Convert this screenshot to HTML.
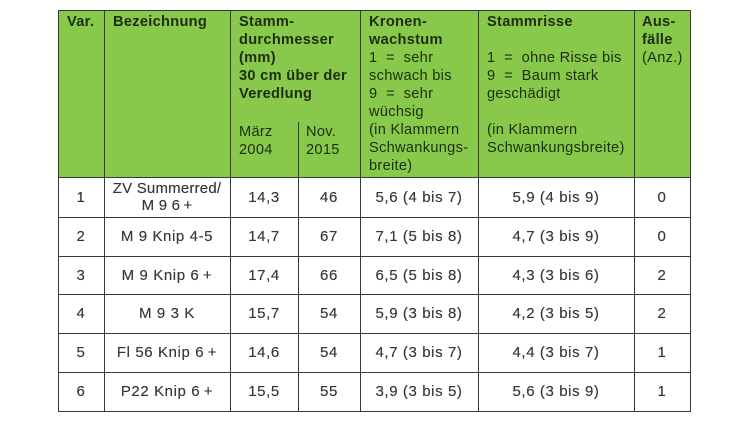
<!DOCTYPE html>
<html>
<head>
<meta charset="utf-8">
<style>
html,body{margin:0;padding:0;background:#fff;}
body{width:748px;height:421px;position:relative;overflow:hidden;font-family:"Liberation Sans",Arial,sans-serif;}
.bg{position:absolute;left:58px;top:10px;width:632px;height:167px;background:#88c94b;}
.v{position:absolute;width:1.5px;background:#383838;}
.h{position:absolute;height:1.5px;background:#383838;}
.ht{position:absolute;font-size:14.6px;line-height:18px;color:#1d2e10;letter-spacing:0.3px;white-space:nowrap;}
.ht b{font-weight:bold;}
.d{position:absolute;font-size:15px;color:#383838;letter-spacing:0.6px;white-space:nowrap;text-align:center;display:flex;align-items:center;justify-content:center;line-height:17px;text-shadow:0 0 0.4px #555;}
</style>
</head>
<body>
<div class="bg"></div>

<!-- horizontal lines -->
<div class="h" style="left:58px;top:9.5px;width:633px;"></div>
<div class="h" style="left:58px;top:176.5px;width:633px;"></div>
<div class="h" style="left:58px;top:216.5px;width:633px;"></div>
<div class="h" style="left:58px;top:255.5px;width:633px;"></div>
<div class="h" style="left:58px;top:293.5px;width:633px;"></div>
<div class="h" style="left:58px;top:332.5px;width:633px;"></div>
<div class="h" style="left:58px;top:371.5px;width:633px;"></div>
<div class="h" style="left:58px;top:410.5px;width:633px;"></div>

<!-- vertical lines -->
<div class="v" style="left:57.5px;top:9.5px;height:402px;"></div>
<div class="v" style="left:103.5px;top:9.5px;height:402px;"></div>
<div class="v" style="left:229.5px;top:9.5px;height:402px;"></div>
<div class="v" style="left:297.5px;top:122px;height:289.5px;"></div>
<div class="v" style="left:359.5px;top:9.5px;height:402px;"></div>
<div class="v" style="left:477.5px;top:9.5px;height:402px;"></div>
<div class="v" style="left:633.5px;top:9.5px;height:402px;"></div>
<div class="v" style="left:689.5px;top:9.5px;height:402px;"></div>

<!-- header text -->
<div class="ht" style="left:67px;top:13px;"><b>Var.</b></div>
<div class="ht" style="left:113px;top:13px;"><b>Bezeichnung</b></div>
<div class="ht" style="left:239px;top:13px;"><b>Stamm-<br>durchmesser<br>(mm)<br>30 cm über der<br>Veredlung</b></div>
<div class="ht" style="left:239px;top:123px;">März<br>2004</div>
<div class="ht" style="left:306px;top:123px;">Nov.<br>2015</div>
<div class="ht" style="left:369px;top:13px;"><b>Kronen-<br>wachstum</b><br>1&nbsp; =&nbsp; sehr<br>schwach bis<br>9&nbsp; =&nbsp; sehr<br>wüchsig<br>(in Klammern<br>Schwankungs-<br>breite)</div>
<div class="ht" style="left:487px;top:13px;"><b>Stammrisse</b><br>&nbsp;<br>1&nbsp; =&nbsp; ohne Risse bis<br>9&nbsp; =&nbsp; Baum stark<br>geschädigt<br>&nbsp;<br>(in Klammern<br>Schwankungsbreite)</div>
<div class="ht" style="left:642px;top:13px;"><b>Aus-<br>fälle</b><br>(Anz.)</div>

<!-- row 1 -->
<div class="d" style="left:58px;top:177px;width:46px;height:40px;">1</div>
<div class="d" style="left:104px;top:177px;width:126px;height:40px;letter-spacing:0.2px;">ZV Summerred/<br>M 9 6&thinsp;+</div>
<div class="d" style="left:230px;top:177px;width:68px;height:40px;">14,3</div>
<div class="d" style="left:298px;top:177px;width:62px;height:40px;">46</div>
<div class="d" style="left:360px;top:177px;width:118px;height:40px;">5,6 (4 bis 7)</div>
<div class="d" style="left:478px;top:177px;width:156px;height:40px;">5,9 (4 bis 9)</div>
<div class="d" style="left:634px;top:177px;width:56px;height:40px;">0</div>

<!-- row 2 -->
<div class="d" style="left:58px;top:217px;width:46px;height:39px;">2</div>
<div class="d" style="left:104px;top:217px;width:126px;height:39px;">M 9 Knip 4-5</div>
<div class="d" style="left:230px;top:217px;width:68px;height:39px;">14,7</div>
<div class="d" style="left:298px;top:217px;width:62px;height:39px;">67</div>
<div class="d" style="left:360px;top:217px;width:118px;height:39px;">7,1 (5 bis 8)</div>
<div class="d" style="left:478px;top:217px;width:156px;height:39px;">4,7 (3 bis 9)</div>
<div class="d" style="left:634px;top:217px;width:56px;height:39px;">0</div>

<!-- row 3 -->
<div class="d" style="left:58px;top:256px;width:46px;height:38px;">3</div>
<div class="d" style="left:104px;top:256px;width:126px;height:38px;">M 9 Knip 6&thinsp;+</div>
<div class="d" style="left:230px;top:256px;width:68px;height:38px;">17,4</div>
<div class="d" style="left:298px;top:256px;width:62px;height:38px;">66</div>
<div class="d" style="left:360px;top:256px;width:118px;height:38px;">6,5 (5 bis 8)</div>
<div class="d" style="left:478px;top:256px;width:156px;height:38px;">4,3 (3 bis 6)</div>
<div class="d" style="left:634px;top:256px;width:56px;height:38px;">2</div>

<!-- row 4 -->
<div class="d" style="left:58px;top:294px;width:46px;height:39px;">4</div>
<div class="d" style="left:104px;top:294px;width:126px;height:39px;">M 9 3 K</div>
<div class="d" style="left:230px;top:294px;width:68px;height:39px;">15,7</div>
<div class="d" style="left:298px;top:294px;width:62px;height:39px;">54</div>
<div class="d" style="left:360px;top:294px;width:118px;height:39px;">5,9 (3 bis 8)</div>
<div class="d" style="left:478px;top:294px;width:156px;height:39px;">4,2 (3 bis 5)</div>
<div class="d" style="left:634px;top:294px;width:56px;height:39px;">2</div>

<!-- row 5 -->
<div class="d" style="left:58px;top:333px;width:46px;height:39px;">5</div>
<div class="d" style="left:104px;top:333px;width:126px;height:39px;">Fl 56 Knip 6&thinsp;+</div>
<div class="d" style="left:230px;top:333px;width:68px;height:39px;">14,6</div>
<div class="d" style="left:298px;top:333px;width:62px;height:39px;">54</div>
<div class="d" style="left:360px;top:333px;width:118px;height:39px;">4,7 (3 bis 7)</div>
<div class="d" style="left:478px;top:333px;width:156px;height:39px;">4,4 (3 bis 7)</div>
<div class="d" style="left:634px;top:333px;width:56px;height:39px;">1</div>

<!-- row 6 -->
<div class="d" style="left:58px;top:372px;width:46px;height:39px;">6</div>
<div class="d" style="left:104px;top:372px;width:126px;height:39px;">P22 Knip 6&thinsp;+</div>
<div class="d" style="left:230px;top:372px;width:68px;height:39px;">15,5</div>
<div class="d" style="left:298px;top:372px;width:62px;height:39px;">55</div>
<div class="d" style="left:360px;top:372px;width:118px;height:39px;">3,9 (3 bis 5)</div>
<div class="d" style="left:478px;top:372px;width:156px;height:39px;">5,6 (3 bis 9)</div>
<div class="d" style="left:634px;top:372px;width:56px;height:39px;">1</div>
</body>
</html>
